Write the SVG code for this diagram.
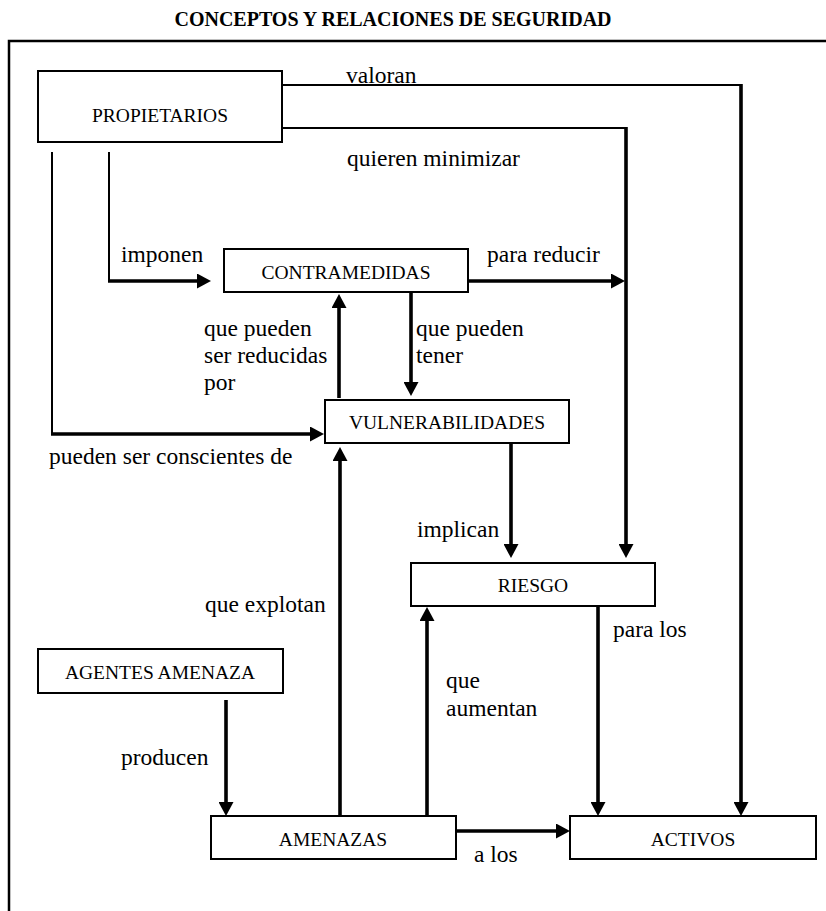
<svg xmlns="http://www.w3.org/2000/svg" width="826" height="911" viewBox="0 0 826 911">
  <style>
    .title { font-family: "Liberation Serif", "Times New Roman", serif; font-weight: bold; font-size: 20px; fill: #000; }
    .node rect { fill: #fff; stroke: #000; stroke-width: 2; }
    .node text { font-family: "Liberation Serif", "Times New Roman", serif; font-size: 19.5px; fill: #000; text-anchor: middle; }
    .lbl { font-family: "Liberation Serif", "Times New Roman", serif; font-size: 23.5px; fill: #000; }
    .thin { fill: none; stroke: #000; stroke-width: 2; }
    .heavy { fill: none; stroke: #000; stroke-width: 3.6; marker-end: url(#head); }
  </style>
  <defs>
    <marker id="head" markerUnits="userSpaceOnUse" markerWidth="14" markerHeight="15" refX="1" refY="7.5" orient="auto">
      <path d="M0,0 L14,7.5 L0,15 z" fill="#000"/>
    </marker>
  </defs>

  <rect width="826" height="911" fill="#fff"/>

  <text class="title" x="393" y="26" text-anchor="middle">CONCEPTOS Y RELACIONES DE SEGURIDAD</text>

  <!-- outer frame (open on the right and bottom) -->
  <path d="M826,41 H9 V911" fill="none" stroke="#000" stroke-width="2.5"/>

  <!-- connectors -->
  <g id="connectors">
    <!-- valoran -->
    <path class="thin" d="M282,85 H741"/>
    <path class="heavy" d="M741,84 V803"/>
    <!-- quieren minimizar -->
    <path class="thin" d="M282,128 H626"/>
    <path class="heavy" d="M626,127 V545"/>
    <!-- imponen -->
    <path class="thin" d="M109,152 V281"/>
    <path class="heavy" d="M108,281 H198"/>
    <!-- pueden ser conscientes de -->
    <path class="thin" d="M52,152 V434"/>
    <path class="heavy" d="M51,434 H311"/>
    <!-- para reducir -->
    <path class="heavy" d="M468,281 H612"/>
    <!-- que pueden ser reducidas por -->
    <path class="heavy" d="M339,398 V307"/>
    <!-- que pueden tener -->
    <path class="heavy" d="M411,293 V383"/>
    <!-- implican -->
    <path class="heavy" d="M511,443 V545"/>
    <!-- que explotan -->
    <path class="heavy" d="M340,816 V460"/>
    <!-- que aumentan -->
    <path class="heavy" d="M427,816 V620"/>
    <!-- para los -->
    <path class="heavy" d="M598,606 V803"/>
    <!-- producen -->
    <path class="heavy" d="M226,700 V803"/>
    <!-- a los -->
    <path class="heavy" d="M456,831 H557"/>
  </g>

  <!-- connector labels -->
  <g id="labels" font-family="'Liberation Serif', 'Times New Roman', serif" font-size="23.5">
    <text class="lbl" x="346" y="83">valoran</text>
    <text class="lbl" x="347" y="166">quieren minimizar</text>
    <text class="lbl" x="121" y="262">imponen</text>
    <text class="lbl" x="487" y="262">para reducir</text>
    <text class="lbl" x="204" y="336">que pueden</text>
    <text class="lbl" x="204" y="363">ser reducidas</text>
    <text class="lbl" x="204" y="390">por</text>
    <text class="lbl" x="416" y="336">que pueden</text>
    <text class="lbl" x="416" y="363">tener</text>
    <text class="lbl" x="49" y="464">pueden ser conscientes de</text>
    <text class="lbl" x="417" y="537">implican</text>
    <text class="lbl" x="205" y="612">que explotan</text>
    <text class="lbl" x="613" y="637">para los</text>
    <text class="lbl" x="446" y="688">que</text>
    <text class="lbl" x="446" y="716">aumentan</text>
    <text class="lbl" x="121" y="765">producen</text>
    <text class="lbl" x="474" y="862">a los</text>
  </g>

  <!-- nodes -->
  <g id="propietarios" class="node">
    <rect x="38" y="71" width="244" height="71"/>
    <text x="160" y="122">PROPIETARIOS</text>
  </g>
  <g id="contramedidas" class="node">
    <rect x="224" y="249" width="244" height="43"/>
    <text x="346" y="279">CONTRAMEDIDAS</text>
  </g>
  <g id="vulnerabilidades" class="node">
    <rect x="325" y="400" width="244" height="43"/>
    <text x="447" y="429">VULNERABILIDADES</text>
  </g>
  <g id="riesgo" class="node">
    <rect x="411" y="563" width="244" height="43"/>
    <text x="533" y="592">RIESGO</text>
  </g>
  <g id="agentes-amenaza" class="node">
    <rect x="38" y="649" width="245" height="44"/>
    <text x="160" y="679">AGENTES AMENAZA</text>
  </g>
  <g id="amenazas" class="node">
    <rect x="211" y="816" width="245" height="43"/>
    <text x="333" y="846">AMENAZAS</text>
  </g>
  <g id="activos" class="node">
    <rect x="570" y="816" width="246" height="43"/>
    <text x="693" y="846">ACTIVOS</text>
  </g>
</svg>
